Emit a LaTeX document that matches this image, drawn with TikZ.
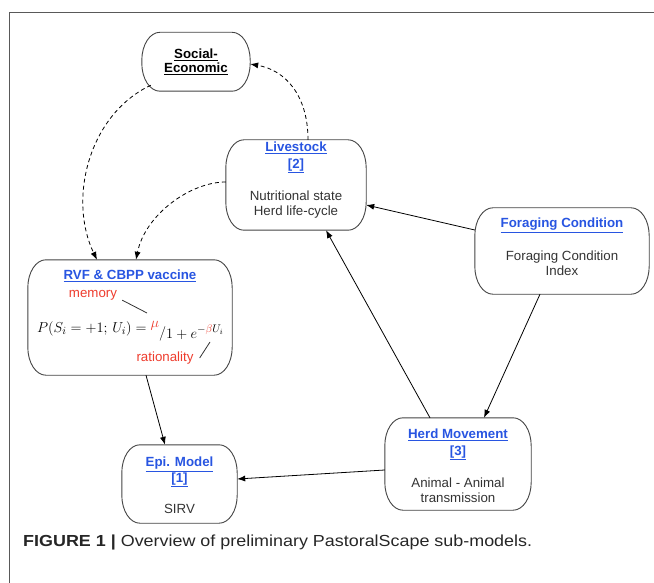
\documentclass[tikz,border=0pt]{standalone}
\usepackage[no-math]{fontspec}
\usetikzlibrary{arrows.meta,positioning,calc}
\newfontfamily\arial{Liberation Sans}
\newfontfamily\capfont[FakeStretch=1.12]{Liberation Sans}
\definecolor{titleblue}{RGB}{40,85,225}
\definecolor{notered}{RGB}{238,60,45}
\definecolor{inkgray}{RGB}{51,51,51}
\definecolor{rimgray}{RGB}{68,68,68}
\newcommand\subfont{\arial\fontsize{13.3}{15.5}\selectfont}
\newcommand\modtitle[1]{{\bfseries\color{titleblue}\underline{#1}}}
\newcommand\ca{18pt}
\newcommand\cb{28pt}

\begin{document}
\begin{tikzpicture}[
    x=1pt, y=-1pt,
    every node/.style={font=\subfont, text=inkgray, inner sep=0pt},
    sub/.style args={#1 by #2}{rectangle, minimum width=#1pt, minimum height=#2pt},
    subtext/.style={align=center},
    rim/.style={draw=rimgray, line width=0.9pt},
    flow/.style={draw=black, line width=0.8pt, -{Latex[length=8pt,width=6pt]}},
    link/.style={flow, dash pattern=on 4pt off 3pt},
    pointer/.style={draw=inkgray, line width=0.8pt},
    outerframe/.style={draw=black!65, line width=0.9pt}
]
\useasboundingbox (0,0) rectangle (654,583);
\draw[outerframe] (654,12) -- (9.5,12) -- (9.5,583);

\node[sub=108 by 58.5, align=center, text=black, font=\subfont\bfseries] (soc) at (196,61.75)
    {\underline{Social-}\\[-2pt]\underline{Economic}};
\node[sub=140 by 90] (live) at (296,185) {};
\node[subtext, below=2.3pt of live.north] (live-txt)
    {\modtitle{Livestock}\\[1pt]\modtitle{[2]}\\[16.5pt]Nutritional state\\Herd life-cycle};
\node[sub=174 by 86] (forag) at (562,251) {};
\node[subtext, below=10.3pt of forag.north] (forag-txt)
    {\modtitle{Foraging Condition}\\[17pt]Foraging Condition\\Index};
\node[sub=204 by 115] (rvf) at (130,317.5) {};
\node[subtext, below=10.3pt of rvf.north] (rvf-txt) {\modtitle{RVF \& CBPP vaccine}};
\node[sub=115 by 78] (epi) at (179.5,484) {};
\node[subtext, below=12.3pt of epi.north] (epi-txt)
    {\modtitle{Epi. Model}\\\modtitle{[1]}\\[15.5pt]SIRV};
\node[sub=146 by 92] (herd) at (458,464) {};
\node[subtext, below=11.3pt of herd.north] (herd-txt)
    {\modtitle{Herd Movement}\\[1pt]\modtitle{[3]}\\[16.5pt]Animal - Animal\\transmission};

\foreach \n in {soc,live,forag,rvf,epi,herd}
    \draw[rim] ($(\n.north west)+(\ca,0pt)$) -- ($(\n.north east)+(-\ca,0pt)$)
        .. controls ($(\n.north east)+(-0.448*\ca,0pt)$) and ($(\n.north east)+(0pt,-0.448*\cb)$) .. ($(\n.north east)+(0pt,-\cb)$)
        -- ($(\n.south east)+(0pt,\cb)$)
        .. controls ($(\n.south east)+(0pt,0.448*\cb)$) and ($(\n.south east)+(-0.448*\ca,0pt)$) .. ($(\n.south east)+(-\ca,0pt)$)
        -- ($(\n.south west)+(\ca,0pt)$)
        .. controls ($(\n.south west)+(0.448*\ca,0pt)$) and ($(\n.south west)+(0pt,0.448*\cb)$) .. ($(\n.south west)+(0pt,\cb)$)
        -- ($(\n.north west)+(0pt,-\cb)$)
        .. controls ($(\n.north west)+(0pt,-0.448*\cb)$) and ($(\n.north west)+(0.448*\ca,0pt)$) .. cycle;

\node[text=notered] (mem) at (93,295) {memory};
\node[anchor=base west, font=\fontsize{15.5}{18}\selectfont, text=black] (eq) at (37,332)
    {$P(S_i=+1;\,U_i)=\raisebox{5pt}{$\textcolor{notered}{\mu}$}\raisebox{-5pt}{$/$}\raisebox{-6pt}{$1+e^{-\textcolor{notered}{\beta}U_i}$}$};
\node[text=notered] (rat) at (165,358) {rationality};
\coordinate (mu-pt) at (147,313);
\coordinate (beta-pt) at (210,342);
\draw[pointer] ([xshift=5pt]mem.south east) -- (mu-pt);
\draw[pointer] ([xshift=6pt]rat.east) -- (beta-pt);

\draw[link] ([xshift=9pt,yshift=6pt]soc.south west) .. controls (88,115) and (68,200) .. ([xshift=-33pt]rvf.north);
\draw[link] ([xshift=12pt]live.north) .. controls (308,95) and (285,70) .. ([yshift=-2.3pt]soc.east);
\draw[link] ([yshift=3pt]live.west) .. controls (190,182) and (145,215) .. ([xshift=6pt]rvf.north);

\draw[flow] ([yshift=21pt]forag.west) -- ([yshift=-20pt]live.east);
\draw[flow] ([xshift=-22pt]forag.south) -- ([xshift=26pt]herd.north);
\draw[flow] ([xshift=-28pt]herd.north) -- ([xshift=30pt]live.south);
\draw[flow] ([yshift=-6pt]herd.west) -- ([yshift=5pt]epi.east);
\draw[flow] ([xshift=16pt]rvf.south) -- ([xshift=-14.5pt]epi.north);

\node[anchor=base west, font=\capfont\fontsize{16}{19}\selectfont, text=black!85] (cap) at (23,546)
    {\textbf{FIGURE 1 |} Overview of preliminary PastoralScape sub-models.};
\end{tikzpicture}
\end{document}
